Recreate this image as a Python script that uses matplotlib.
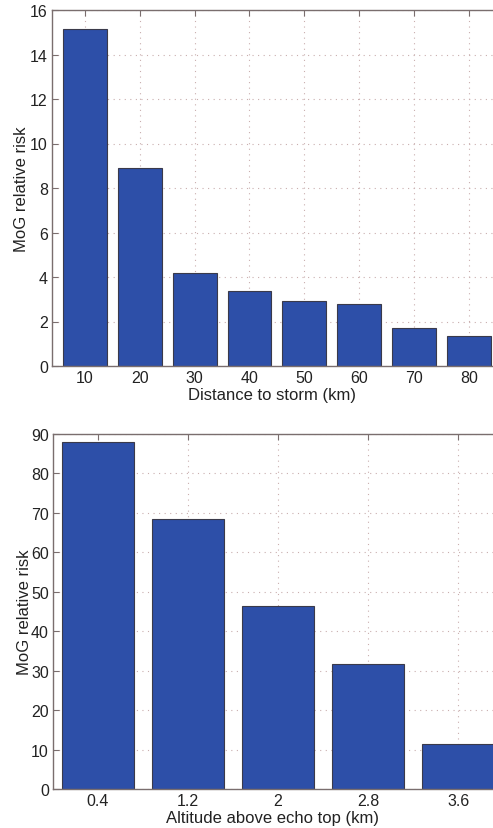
import numpy as np
import matplotlib.pyplot as plt

plt.rcParams['font.family'] = ['Liberation Sans', 'DejaVu Sans']

# distance to storm (km) vs MoG relative risk
distance = [10, 20, 30, 40, 50, 60, 70, 80]
risk_distance = [15.15, 8.9, 4.2, 3.39, 2.92, 2.79, 1.71, 1.35]

# altitude above echo top (km) vs MoG relative risk
altitude = [0.4, 1.2, 2.0, 2.8, 3.6]
altitude_labels = ['0.4', '1.2', '2', '2.8', '3.6']
risk_altitude = [87.9, 68.4, 46.4, 31.6, 11.3]

bar_color = '#2d4fa8'
edge_color = '#3a3a4a'
spine_color = '#7a6e6e'
grid_kw = dict(color='#c9aeae', linestyle=(0, (1, 4)), linewidth=0.8)

W, H = 493, 829
fig = plt.figure(figsize=(W / 100, H / 100), dpi=100)


def style_axes(ax):
    ax.set_axisbelow(True)
    ax.grid(True, **grid_kw)
    for side in ['left', 'bottom', 'top']:
        ax.spines[side].set_color(spine_color)
        ax.spines[side].set_linewidth(1.0)
    ax.spines['right'].set_visible(False)
    ax.tick_params(direction='in', length=4, color=spine_color,
                   labelsize=11.5, labelcolor='#222222', top=True, pad=3)


# top panel
ax1 = fig.add_axes([52 / W, 1 - 367 / H, (W - 52) / W, (367 - 11) / H])
ax1.bar(distance, risk_distance, width=8, color=bar_color,
        edgecolor=edge_color, linewidth=0.8)
ax1.set_xlim(4, 84.4)
ax1.set_ylim(0, 16)
ax1.set_xticks(distance)
ax1.set_yticks(np.arange(0, 17, 2))
style_axes(ax1)
ax1.set_xlabel('Distance to storm (km)', fontsize=12, labelpad=1, color='#222222')
ax1.set_ylabel('MoG relative risk', fontsize=12, labelpad=1, color='#222222')

# bottom panel
ax2 = fig.add_axes([53 / W, 1 - 790 / H, (W - 53) / W, (790 - 435) / H])
ax2.bar(altitude, risk_altitude, width=0.64, color=bar_color,
        edgecolor=edge_color, linewidth=0.8)
ax2.set_xlim(0, 3.91)
ax2.set_ylim(0, 90)
ax2.set_xticks(altitude)
ax2.set_xticklabels(altitude_labels)
ax2.set_yticks(np.arange(0, 91, 10))
style_axes(ax2)
ax2.set_xlabel('Altitude above echo top (km)', fontsize=12, labelpad=1, color='#222222')
ax2.set_ylabel('MoG relative risk', fontsize=12, labelpad=-1, color='#222222')

fig.savefig('out.png', dpi=100)
